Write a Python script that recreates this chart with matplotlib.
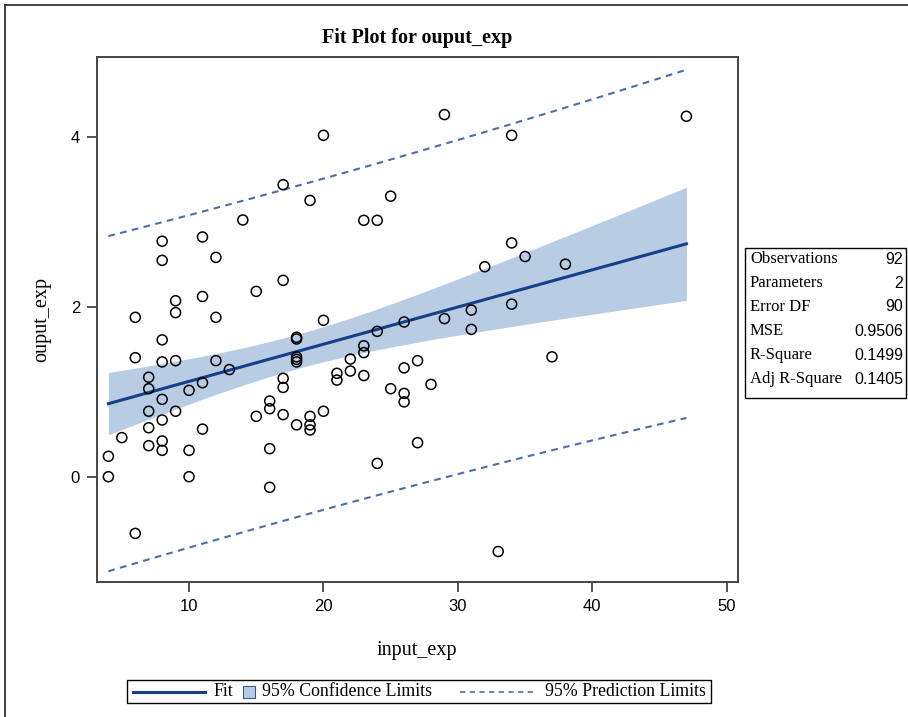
#!/python3
import numpy as np
import matplotlib
matplotlib.use("Agg")
import matplotlib.pyplot as plt
from matplotlib.lines import Line2D
from matplotlib.patches import Rectangle

# observations, grouped by input value
input_exp = (
    [4] * 2 + [5] + [6] * 3 + [7] * 5 + [8] * 8 + [9] * 4 + [10] * 3 + [11] * 4
    + [12] * 3 + [13] + [14] + [15] * 2 + [16] * 4 + [17] * 5 + [18] * 6 + [19] * 4
    + [20] * 3 + [21] * 2 + [22] * 2 + [23] * 4 + [24] * 3 + [25] * 2 + [26] * 4
    + [27] * 2 + [28] + [29] * 2 + [31] * 2 + [32] + [33] + [34] * 3 + [35] + [37]
    + [38] + [47]
)
ouput_exp = [
    0.24, 0.00,                                   # 4
    0.46,                                         # 5
    1.875, 1.40, -0.667,                          # 6
    1.17, 1.035, 0.77, 0.576, 0.365,              # 7
    2.77, 2.545, 1.61, 1.35, 0.91, 0.667, 0.42, 0.31,  # 8
    2.07, 1.93, 1.365, 0.77,                      # 9
    1.016, 0.31, 0.00,                            # 10
    2.82, 2.12, 1.106, 0.56,                      # 11
    2.58, 1.875, 1.365,                           # 12
    1.26,                                         # 13
    3.02,                                         # 14
    2.18, 0.71,                                   # 15
    0.89, 0.80, 0.33, -0.125,                     # 16
    3.435, 2.31, 1.157, 1.05, 0.73,               # 17
    1.64, 1.62, 1.41, 1.38, 1.35, 0.61,           # 18
    3.25, 0.71, 0.61, 0.55,                       # 19
    4.016, 1.84, 0.77,                            # 20
    1.216, 1.137,                                 # 21
    1.384, 1.243,                                 # 22
    3.016, 1.54, 1.46, 1.19,                      # 23
    3.016, 1.71, 0.157,                           # 24
    3.30, 1.035,                                  # 25
    1.82, 1.28, 0.98, 0.88,                       # 26
    1.365, 0.40,                                  # 27
    1.086,                                        # 28
    4.26, 1.86,                                   # 29
    1.96, 1.733,                                  # 31
    2.47,                                         # 32
    -0.88,                                        # 33
    4.016, 2.75, 2.03,                            # 34
    2.59,                                         # 35
    1.41,                                         # 37
    2.50,                                         # 38
    4.24,                                         # 47
]

stat_names = ["Observations", "Parameters", "Error DF", "MSE", "R-Square", "Adj R-Square"]
stat_values = ["92", "2", "90", "0.9506", "0.1499", "0.1405"]
legend_labels = ["Fit", "95% Confidence Limits", "95% Prediction Limits"]
mse = 0.9506
t_crit = 1.98667  # t(0.975, 90)

x_ticks = [10, 20, 30, 40, 50]
y_ticks = [0, 2, 4]

FIT_COLOR = "#153f86"
CLM_COLOR = "#b8cce4"
PI_COLOR = "#4a6fae"
DASH = (0, (3.2, 2.6))
SERIF = ["Liberation Serif", "DejaVu Serif"]
NARROW = ["Liberation Sans Narrow", "Liberation Sans", "DejaVu Sans"]
W, H = 908, 717


def fx(px):
    return px / W


def fy(py):
    return 1 - py / H


def fit_bands(x, y):
    x = np.asarray(x, float)
    y = np.asarray(y, float)
    slope, intercept = np.polyfit(x, y, 1)
    xs = np.linspace(x.min(), x.max(), 200)
    pred = intercept + slope * xs
    n = len(x)
    sxx = ((x - x.mean()) ** 2).sum()
    lev = 1.0 / n + (xs - x.mean()) ** 2 / sxx
    ci = t_crit * np.sqrt(mse * lev)
    pi = t_crit * np.sqrt(mse * (1 + lev))
    return xs, pred, ci, pi


fig = plt.figure(figsize=(W / 100, H / 100), dpi=100)
ax = fig.add_axes([0.1065, 0.1879, 0.7060, 0.7322])

xs, pred, ci, pi = fit_bands(input_exp, ouput_exp)
ax.fill_between(xs, pred - ci, pred + ci, color=CLM_COLOR, lw=0, zorder=1)
ax.plot(xs, pred, color=FIT_COLOR, lw=2.2, zorder=3)
ax.plot(xs, pred + pi, color=PI_COLOR, lw=1.5, ls=DASH, zorder=2)
ax.plot(xs, pred - pi, color=PI_COLOR, lw=1.5, ls=DASH, zorder=2)
ax.scatter(input_exp, ouput_exp, s=52, facecolors="none", edgecolors="black",
           linewidths=1.1, zorder=4)

ax.set_xlim(3.13, 50.82)
ax.set_ylim(-1.242, 4.934)
ax.set_xticks(x_ticks)
ax.set_yticks(y_ticks)
for lab in ax.get_xticklabels() + ax.get_yticklabels():
    lab.set_fontfamily(NARROW)
    lab.set_fontsize(12)
ax.tick_params(direction="out", length=7, width=1.2, color="#333333", pad=5)
for sp in ax.spines.values():
    sp.set_color("#444444")
    sp.set_linewidth(1.4)

fig.text(0.4593, 0.947, "Fit Plot for ouput_exp", ha="center", va="center",
         fontsize=14.5, fontweight="bold", family=SERIF)
fig.text(0.4593, 0.0934, "input_exp", ha="center", va="center", fontsize=14.5, family=SERIF)
fig.text(0.0463, 0.5537, "ouput_exp", ha="center", va="center", rotation=90,
         fontsize=14.5, family=SERIF)

# fit statistics box to the right of the axes
fig.add_artist(Rectangle((fx(745), fy(398)), fx(161), 150 / H,
                         transform=fig.transFigure, fill=False, ec="black", lw=1.0))
for i, (name, val) in enumerate(zip(stat_names, stat_values)):
    yy = fy(259 + 24 * i)
    fig.text(fx(750), yy, name, ha="left", va="center", fontsize=12, family=SERIF)
    fig.text(fx(903), yy, val, ha="right", va="center", fontsize=11.5, family=NARROW)

# legend strip along the bottom, laid out by hand
ly = fy(691.5)
fig.add_artist(Rectangle((fx(127), fy(703)), fx(584), 23 / H,
                         transform=fig.transFigure, fill=False, ec="black", lw=1.0))
fig.add_artist(Line2D([fx(133), fx(205)], [ly, ly], color=FIT_COLOR, lw=2.2))
fig.text(fx(213), ly, legend_labels[0], ha="left", va="center", fontsize=12.8, family=SERIF)
fig.add_artist(Rectangle((fx(243), fy(698)), fx(12), 12 / H, transform=fig.transFigure,
                         fc=CLM_COLOR, ec="#3a5a8c", lw=0.8))
fig.text(fx(262), ly, legend_labels[1], ha="left", va="center", fontsize=12.8, family=SERIF)
fig.add_artist(Line2D([fx(460), fx(535)], [ly, ly], color=PI_COLOR, lw=1.2, ls=DASH))
fig.text(fx(545), ly, legend_labels[2], ha="left", va="center", fontsize=12.8, family=SERIF)

# outer border of the graph area
fig.add_artist(Line2D([fx(5), fx(5)], [0, fy(5)], color="#222222", lw=1.2))
fig.add_artist(Line2D([fx(5), 1], [fy(5), fy(5)], color="#222222", lw=1.2))

fig.savefig("out.png", dpi=100)
plt.close(fig)
